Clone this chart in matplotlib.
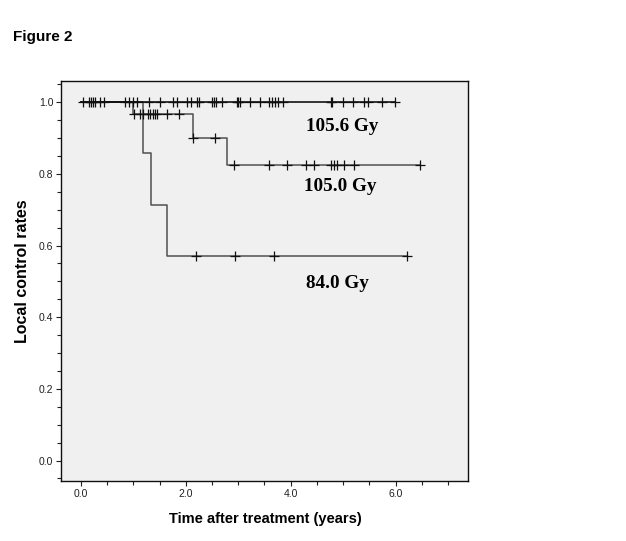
import numpy as np
import matplotlib
matplotlib.use("Agg")
import matplotlib.pyplot as plt
from matplotlib.ticker import MultipleLocator, FormatStrFormatter

plt.rcParams["font.family"] = ["Liberation Sans", "DejaVu Sans"]

# Kaplan-Meier step data (time in years, local control rate)
t_1056 = [0.0, 5.99]
s_1056 = [1.0, 1.0]
c_1056 = [0.04, 0.15, 0.19, 0.23, 0.27, 0.36, 0.44, 0.84, 0.92, 0.99, 1.07, 1.30,
          1.51, 1.76, 1.83, 2.02, 2.10, 2.21, 2.25, 2.50, 2.54, 2.58, 2.69, 2.98,
          3.00, 3.03, 3.22, 3.42, 3.59, 3.65, 3.70, 3.76, 3.85, 4.77, 4.79, 5.00,
          5.19, 5.40, 5.48, 5.74, 5.99]

t_1050 = [0.0, 1.00, 2.13, 2.78, 6.46]
s_1050 = [1.0, 0.966, 0.900, 0.824, 0.824]
c_1050 = [1.01, 1.13, 1.19, 1.27, 1.32, 1.37, 1.41, 1.46, 1.65, 1.87,
          2.14, 2.56, 2.91, 3.59, 3.93, 4.29, 4.45, 4.77, 4.82, 4.88, 5.02, 5.20, 6.46]

t_840 = [0.0, 1.18, 1.33, 1.65, 6.22]
s_840 = [1.0, 0.857, 0.714, 0.571, 0.571]
c_840 = [2.19, 2.93, 3.68, 6.22]

groups = [
    ("84.0 Gy", t_840, s_840, c_840, "#505050", (4.90, 0.495)),
    ("105.0 Gy", t_1050, s_1050, c_1050, "#505050", (4.95, 0.766)),
    ("105.6 Gy", t_1056, s_1056, c_1056, "#000000", (4.98, 0.933)),
]

fig = plt.figure(figsize=(6.26, 5.41), dpi=100)
ax = fig.add_axes([0.0974, 0.1109, 0.6502, 0.7394])
ax.set_facecolor("#f0f0f0")

for label, tt, ss, cc, col, pos in groups:
    ax.step(tt, ss, where="post", color=col, lw=1.1)
    idx = np.searchsorted(tt, cc, side="right") - 1
    cy = np.array(ss)[idx]
    ax.plot(cc, cy, ls="none", marker="+", ms=6.5, mew=0.9, color="#101010")
    ax.text(pos[0], pos[1], label, ha="center", va="center", fontsize=13.8,
            fontweight="bold", family="Liberation Serif")

ax.set_xlim(-0.38, 7.38)
ax.set_ylim(-0.057, 1.059)
ax.xaxis.set_major_locator(MultipleLocator(2.0))
ax.xaxis.set_minor_locator(MultipleLocator(0.5))
ax.yaxis.set_major_locator(MultipleLocator(0.2))
ax.yaxis.set_minor_locator(MultipleLocator(0.05))
ax.xaxis.set_major_formatter(FormatStrFormatter("%.1f"))
ax.yaxis.set_major_formatter(FormatStrFormatter("%.1f"))
ax.tick_params(which="both", direction="out", labelsize=7.5, colors="#202020", width=0.8)
ax.tick_params(which="major", length=3.5, pad=2)
ax.tick_params(which="minor", length=3)
for sp in ax.spines.values():
    sp.set_linewidth(1.0)
    sp.set_color("#101010")

fig.text(0.4233, 0.040, "Time after treatment (years)", ha="center", va="center",
         fontsize=10.5, fontweight="bold")
fig.text(0.036, 0.499, "Local control rates", ha="center", va="center",
         rotation=90, fontsize=11.5, fontweight="bold")
fig.text(0.021, 0.932, "Figure 2", ha="left", va="center", fontsize=11,
         fontweight="bold")

fig.savefig("out.png", dpi=100)
